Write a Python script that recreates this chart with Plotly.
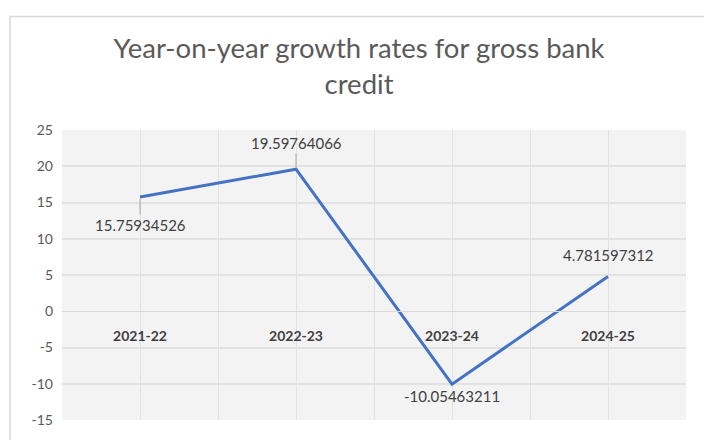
import plotly.graph_objects as go

categories = ["2021-22", "2022-23", "2023-24", "2024-25"]
growth = [15.75934526, 19.59764066, -10.05463211, 4.781597312]
label_text = ["15.75934526", "19.59764066", "-10.05463211", "4.781597312"]
y_ticks = [25, 20, 15, 10, 5, 0, -5, -10, -15]

W, H = 704, 440
L, R, T, B = 62, 18, 130, 16
pw, ph = W - L - R, H - T - B

fig = go.Figure()
fig.add_trace(go.Scatter(
    x=categories, y=growth, mode="lines",
    line=dict(color="#4472C4", width=3),
    hoverinfo="skip", showlegend=False,
))

# data labels
offsets = [(28, True), (-26, True), (12, False), (-22, False)]
for cat, val, txt, (ay, arrow) in zip(categories, growth, label_text, offsets):
    if arrow:
        fig.add_annotation(x=cat, y=val, text=txt, showarrow=True, arrowhead=0,
                           arrowwidth=1, arrowcolor="#a6a6a6", ax=0, ay=ay, standoff=2,
                           font=dict(family="Lato", size=15, color="#404040"))
    else:
        fig.add_annotation(x=cat, y=val, text=txt, showarrow=False,
                           yshift=-ay, yanchor="middle",
                           font=dict(family="Lato", size=15, color="#404040"))

# outer chart frame
fig.add_shape(type="rect", xref="paper", yref="paper",
              x0=(10 - L) / pw, x1=(W + 20 - L) / pw,
              y0=-(H + 20 - T - ph) / ph, y1=1 + (T - 15) / ph,
              line=dict(color="#d9d9d9", width=1.5), fillcolor="rgba(0,0,0,0)", layer="below")

zero_pos = (0 - y_ticks[-1]) / (y_ticks[0] - y_ticks[-1])

fig.update_layout(
    width=W, height=H,
    margin=dict(l=L, r=R, t=T, b=B),
    paper_bgcolor="white",
    plot_bgcolor="#f3f3f3",
    title=dict(text="Year-on-year growth rates for gross bank<br>credit",
               x=0.51, xanchor="center", yref="container", y=1 - 58 / H, yanchor="middle",
               font=dict(family="Lato", size=27.5, color="#5a5a5a")),
    xaxis=dict(
        type="category", range=[-0.5, 3.5],
        anchor="free", position=zero_pos,
        showline=True, linecolor="#d9d9d9", linewidth=1,
        ticks="", ticklabelstandoff=12,
        tickfont=dict(family="Lato", size=14, color="#404040", weight="bold"),
        showgrid=True, gridcolor="#e2e2e2", gridwidth=1,
        minor=dict(showgrid=True, gridcolor="#e2e2e2", gridwidth=1, tickmode="array",
                   tickvals=[-0.5, 0.5, 1.5, 2.5, 3.5]),
        zeroline=False, fixedrange=True,
    ),
    yaxis=dict(
        range=[-15, 25], tickvals=y_ticks, ticktext=[str(v) for v in y_ticks],
        showgrid=True, gridcolor="#e2e2e2", gridwidth=1.5,
        zeroline=True, zerolinecolor="#d9d9d9", zerolinewidth=1,
        ticks="", ticklabelstandoff=8,
        tickfont=dict(family="Lato", size=14, color="#595959"),
        showline=False,
    ),
)

fig.write_html("out.html", config={"displayModeBar": False},
               post_script="document.body.style.margin='0';")
